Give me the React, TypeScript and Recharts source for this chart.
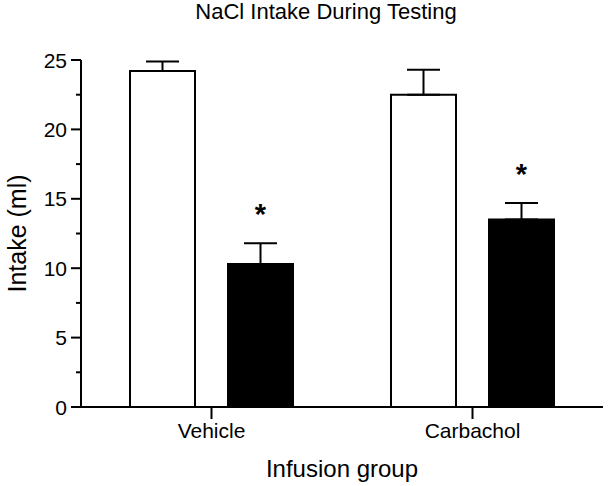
import React from "react";
import {
    Bar,
    BarChart,
    ErrorBar,
    LabelList,
    XAxis,
    YAxis,
} from "recharts";

const categories = ["Vehicle", "Carbachol"];
const controlMeans = [24.2, 22.5];
const controlSem = [0.7, 1.8];
const treatedMeans = [10.3, 13.5];
const treatedSem = [1.5, 1.2];
const significance = ["*", "*"];
const yTicks = [0, 2.5, 5, 7.5, 10, 12.5, 15, 17.5, 20, 22.5, 25];

const FONT = '"Liberation Sans", Arial, sans-serif';

const data = categories.map((name, i) => ({
    name,
    control: controlMeans[i],
    controlErr: [0, controlSem[i]],
    treated: treatedMeans[i],
    treatedErr: [0, treatedSem[i]],
    star: significance[i],
}));

const YTick = (props: any) => {
    const { x, y, payload } = props;
    const axisX = x + 10 + 4;
    const major = payload.value % 5 === 0;
    return (
        <g>
            <line x1={axisX - (major ? 10 : 5)} y1={y} x2={axisX} y2={y} stroke="#000" strokeWidth={2} />
            {major && (
                <text x={x} y={y} dy="0.36em" textAnchor="end" fill="#000" fontSize={21} fontFamily={FONT}>
                    {payload.value}
                </text>
            )}
        </g>
    );
};

// asterisk sits a fixed distance above the top of the error bar
const StarLabel = (props: any) => {
    const { x, y, width, height, value, index } = props;
    if (!value) return null;
    const perUnit = height / treatedMeans[index];
    const errTop = y - treatedSem[index] * perUnit;
    return (
        <text
            x={x + width / 2}
            y={errTop - 19}
            textAnchor="middle"
            fill="#000"
            fontSize={29}
            fontWeight="bold"
            fontFamily={FONT}
        >
            {value}
        </text>
    );
};

const App: React.FC = () => {
    return (
        <div style={{ position: "absolute", left: 0, top: 0, width: 608, height: 486, background: "#fff" }}>
            <div
                style={{
                    position: "absolute",
                    left: 0,
                    top: -1,
                    width: 652,
                    textAlign: "center",
                    fontFamily: FONT,
                    fontSize: 22,
                    lineHeight: "26px",
                    color: "#000",
                }}
            >
                NaCl Intake During Testing
            </div>
            <BarChart
                width={608}
                height={486}
                data={data}
                margin={{ top: 60, right: 5, bottom: 0, left: 0 }}
                barCategoryGap={49}
                barGap={33}
                barSize={65}
            >
                <XAxis
                    dataKey="name"
                    axisLine={{ stroke: "#000", strokeWidth: 2 }}
                    tickLine={{ stroke: "#000", strokeWidth: 2 }}
                    tickSize={12}
                    tickMargin={4}
                    height={79}
                    tick={{ fill: "#000", fontSize: 21, fontFamily: FONT }}
                    label={{
                        content: (p: any) => {
                            const vb = p.viewBox;
                            return (
                                <text
                                    x={vb.x + vb.width / 2}
                                    y={477}
                                    textAnchor="middle"
                                    fill="#000"
                                    fontSize={24}
                                    fontFamily={FONT}
                                >
                                    Infusion group
                                </text>
                            );
                        },
                    }}
                />
                <YAxis
                    width={81}
                    domain={[0, 25]}
                    ticks={yTicks}
                    interval={0}
                    axisLine={{ stroke: "#000", strokeWidth: 2 }}
                    tickLine={false}
                    tickSize={10}
                    tickMargin={4}
                    tick={<YTick />}
                    label={{
                        content: (p: any) => {
                            const vb = p.viewBox;
                            const cx = 17;
                            const cy = vb.y + vb.height / 2;
                            return (
                                <text
                                    x={cx}
                                    y={cy}
                                    dy="0.36em"
                                    textAnchor="middle"
                                    transform={`rotate(-90 ${cx} ${cy})`}
                                    fill="#000"
                                    fontSize={25}
                                    fontFamily={FONT}
                                >
                                    Intake (ml)
                                </text>
                            );
                        },
                    }}
                />
                <Bar dataKey="control" fill="#fff" stroke="#000" strokeWidth={2} isAnimationActive={false}>
                    <ErrorBar dataKey="controlErr" width={16.5} stroke="#000" strokeWidth={2} />
                </Bar>
                <Bar dataKey="treated" fill="#000" stroke="#000" strokeWidth={2} isAnimationActive={false}>
                    <ErrorBar dataKey="treatedErr" width={16.5} stroke="#000" strokeWidth={2} />
                    <LabelList dataKey="star" content={<StarLabel />} />
                </Bar>
            </BarChart>
        </div>
    );
};

export default App;
